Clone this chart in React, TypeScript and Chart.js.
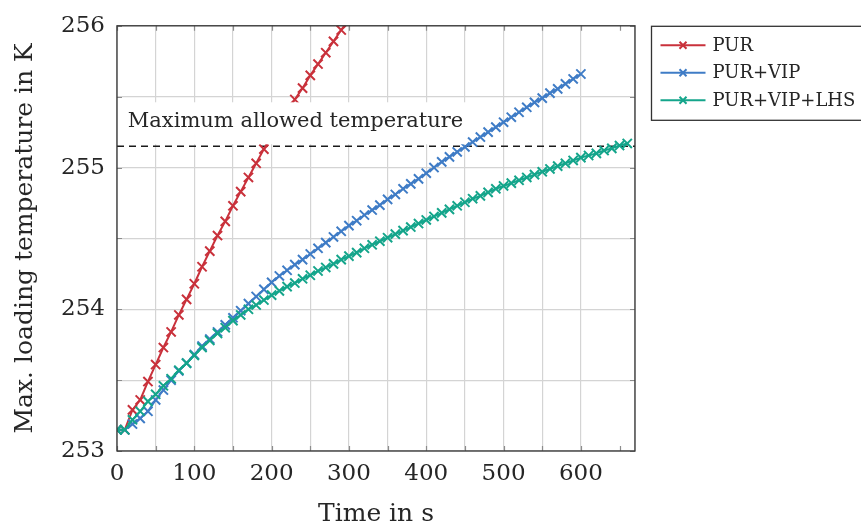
import React, { useEffect, useRef } from 'react';
import { Chart, registerables } from 'chart.js';

Chart.register(...registerables);

// ---------- data ----------
const seriesLabels = ['PUR', 'PUR+VIP', 'PUR+VIP+LHS'];
const seriesColors = ['#c9313b', '#3f7cc6', '#14a58b'];

const timePUR = [0, 10, 20, 30, 40, 50, 60, 70, 80, 90, 100, 110, 120, 130, 140, 150, 160, 170, 180, 190, 200, 210, 220, 230, 240, 250, 260, 270, 280, 290, 300];
const tempPUR = [253.15, 253.15, 253.29, 253.36, 253.49, 253.61, 253.73, 253.84, 253.96, 254.07, 254.18, 254.30, 254.41, 254.52, 254.62, 254.73, 254.83, 254.93, 255.03, 255.13, 255.23, 255.31, 255.39, 255.48, 255.56, 255.65, 255.73, 255.81, 255.89, 255.97, 256.05];

const timeVIP = [0, 10, 20, 30, 40, 50, 60, 70, 80, 90, 100, 110, 120, 130, 140, 150, 160, 170, 180, 190, 200, 210, 220, 230, 240, 250, 260, 270, 280, 290, 300, 310, 320, 330, 340, 350, 360, 370, 380, 390, 400, 410, 420, 430, 440, 450, 460, 470, 480, 490, 500, 510, 520, 530, 540, 550, 560, 570, 580, 590, 600];
const tempVIP = [253.15, 253.15, 253.19, 253.23, 253.28, 253.36, 253.43, 253.50, 253.565, 253.62, 253.68, 253.74, 253.79, 253.84, 253.89, 253.94, 253.99, 254.04, 254.09, 254.14, 254.19, 254.235, 254.275, 254.315, 254.35, 254.39, 254.43, 254.47, 254.51, 254.55, 254.59, 254.625, 254.665, 254.70, 254.735, 254.775, 254.81, 254.85, 254.885, 254.92, 254.96, 255.0, 255.04, 255.075, 255.11, 255.145, 255.18, 255.215, 255.25, 255.285, 255.32, 255.355, 255.39, 255.425, 255.46, 255.49, 255.525, 255.555, 255.59, 255.625, 255.66];

const timeLHS = [0, 10, 20, 30, 40, 50, 60, 70, 80, 90, 100, 110, 120, 130, 140, 150, 160, 170, 180, 190, 200, 210, 220, 230, 240, 250, 260, 270, 280, 290, 300, 310, 320, 330, 340, 350, 360, 370, 380, 390, 400, 410, 420, 430, 440, 450, 460, 470, 480, 490, 500, 510, 520, 530, 540, 550, 560, 570, 580, 590, 600, 610, 620, 630, 640, 650, 660];
const tempLHS = [253.15, 253.15, 253.22, 253.28, 253.35, 253.40, 253.46, 253.51, 253.57, 253.62, 253.675, 253.73, 253.78, 253.83, 253.87, 253.92, 253.96, 254.0, 254.03, 254.065, 254.10, 254.13, 254.16, 254.185, 254.215, 254.24, 254.27, 254.295, 254.32, 254.35, 254.375, 254.40, 254.43, 254.455, 254.48, 254.505, 254.53, 254.555, 254.58, 254.605, 254.63, 254.655, 254.68, 254.705, 254.73, 254.755, 254.78, 254.80, 254.825, 254.85, 254.87, 254.89, 254.91, 254.93, 254.95, 254.97, 254.99, 255.01, 255.03, 255.05, 255.07, 255.085, 255.10, 255.12, 255.135, 255.155, 255.17];

const limitTemp = 255.15;
const limitLabel = 'Maximum allowed temperature';
const limitTimes = [0, 670];
const labelTime = 14;

const xTitle = 'Time in s';
const yTitle = 'Max. loading temperature in K';
const xMin = 0, xMax = 670, xStep = 50, xLabelEvery = 100;
const yMin = 253, yMax = 256, yStep = 0.5;

const FONT = "'DejaVu Serif', serif";
const TEXT = '#262626';

const zip = (xs: number[], ys: number[]) => xs.map((x, i) => ({ x, y: ys[i] }));

const drawCross = (ctx: CanvasRenderingContext2D, x: number, y: number, r: number) => {
  ctx.beginPath();
  ctx.moveTo(x - r, y - r);
  ctx.lineTo(x + r, y + r);
  ctx.moveTo(x - r, y + r);
  ctx.lineTo(x + r, y - r);
  ctx.stroke();
};

const decorPlugin = {
  id: 'decor',
  afterDatasetsDraw(chart: any) {
    const { ctx, chartArea: a, scales } = chart;
    const xs = scales.x, ys = scales.y;
    ctx.save();
    // inner tick marks
    ctx.strokeStyle = '#8c8c8c';
    ctx.lineWidth = 1.2;
    for (let v = yMin; v <= yMax + 1e-9; v += yStep) {
      const py = Math.round(ys.getPixelForValue(v)) + 0.5;
      ctx.beginPath();
      ctx.moveTo(a.left, py); ctx.lineTo(a.left + 5, py);
      ctx.moveTo(a.right, py); ctx.lineTo(a.right - 5, py);
      ctx.stroke();
    }
    for (let v = xMin; v <= xMax; v += xStep) {
      const px = Math.round(xs.getPixelForValue(v)) + 0.5;
      ctx.beginPath();
      ctx.moveTo(px, a.bottom); ctx.lineTo(px, a.bottom - 5);
      ctx.moveTo(px, a.top); ctx.lineTo(px, a.top + 5);
      ctx.stroke();
    }
    // label box for limit line
    const ly = ys.getPixelForValue(limitTemp);
    ctx.font = `21px ${FONT}`;
    const tx = xs.getPixelForValue(labelTime);
    const tw = ctx.measureText(limitLabel).width;
    ctx.fillStyle = '#ffffff';
    ctx.fillRect(a.left + 1, ly - 44, tx + tw + 3 - (a.left + 1), 42);
    ctx.fillStyle = TEXT;
    ctx.textBaseline = 'alphabetic';
    ctx.textAlign = 'left';
    ctx.fillText(limitLabel, tx, ly - 19);
    // frame
    ctx.strokeStyle = '#333333';
    ctx.lineWidth = 1.3;
    ctx.strokeRect(a.left, a.top, a.right - a.left, a.bottom - a.top);
    ctx.restore();
  },
  afterDraw(chart: any) {
    const { ctx, chartArea: a } = chart;
    ctx.save();
    const bx = a.right + 16.5, by = a.top + 0.5;
    ctx.fillStyle = '#ffffff';
    ctx.fillRect(bx, by, 300, 94);
    ctx.strokeStyle = '#333333';
    ctx.lineWidth = 1.3;
    ctx.strokeRect(bx, by, 300, 94);
    ctx.font = `18px ${FONT}`;
    ctx.textBaseline = 'middle';
    ctx.textAlign = 'left';
    for (let i = 0; i < seriesLabels.length; i++) {
      const y = by + 19 + i * 27.5;
      ctx.strokeStyle = seriesColors[i];
      ctx.lineWidth = 2;
      ctx.beginPath();
      ctx.moveTo(bx + 9, y); ctx.lineTo(bx + 54, y);
      ctx.stroke();
      drawCross(ctx, bx + 31.5, y, 3.5);
      ctx.fillStyle = TEXT;
      ctx.fillText(seriesLabels[i], bx + 61, y + 1);
    }
    ctx.restore();
  },
};

const seriesDataset = (i: number, xs: number[], ys: number[]) => ({
  label: seriesLabels[i],
  data: zip(xs, ys),
  order: seriesLabels.length - i,
  borderColor: seriesColors[i],
  backgroundColor: seriesColors[i],
  borderWidth: 2,
  pointStyle: 'crossRot',
  pointRadius: 6.5,
  pointBorderWidth: 2,
  pointHoverRadius: 6.5,
  tension: 0,
  fill: false,
});

export default function App() {
  const ref = useRef<HTMLCanvasElement>(null);
  useEffect(() => {
    if (!ref.current) return;
    const chart = new Chart(ref.current, {
      type: 'line',
      data: {
        datasets: [
          {
            label: 'limit',
            data: limitTimes.map((x) => ({ x, y: limitTemp })),
            order: 10,
            borderColor: '#1a1a1a',
            borderWidth: 1.4,
            borderDash: [7, 5],
            pointRadius: 0,
            fill: false,
          } as any,
          seriesDataset(0, timePUR, tempPUR),
          seriesDataset(1, timeVIP, tempVIP),
          seriesDataset(2, timeLHS, tempLHS),
        ],
      },
      options: {
        responsive: false,
        animation: false,
        events: [],
        layout: { padding: { left: 0, top: 21, right: 226, bottom: 0 } },
        plugins: { legend: { display: false }, tooltip: { enabled: false } },
        scales: {
          x: {
            type: 'linear',
            min: xMin,
            max: xMax,
            afterFit: (s: any) => { s.height = 76; },
            grid: { color: '#d4d4d4', lineWidth: 1.2, drawTicks: false },
            border: { display: false },
            ticks: {
              stepSize: xStep,
              autoSkip: false,
              maxRotation: 0,
              padding: 9,
              color: TEXT,
              font: { family: FONT, size: 23 },
              callback: (v: any) => (Number(v) % xLabelEvery === 0 ? String(v) : ''),
            },
            title: { display: true, text: xTitle, color: TEXT, font: { family: FONT, size: 25 }, padding: { top: 0, bottom: -2 } },
          },
          y: {
            type: 'linear',
            min: yMin,
            max: yMax,
            afterFit: (s: any) => { s.width = 117; },
            grid: { color: '#d4d4d4', lineWidth: 1.2, drawTicks: false },
            border: { display: false },
            ticks: {
              stepSize: yStep,
              autoSkip: false,
              padding: 12,
              color: TEXT,
              font: { family: FONT, size: 23 },
              callback: (v: any) => (Number.isInteger(Number(v)) ? String(v) : ''),
            },
            title: { display: true, text: yTitle, color: TEXT, font: { family: FONT, size: 25 }, padding: { top: 10, bottom: 0 } },
          },
        },
      },
      plugins: [decorPlugin],
    } as any);
    return () => chart.destroy();
  }, []);
  return (
    <div style={{ position: 'fixed', left: 0, top: 0, width: 861, height: 527, background: '#fff' }}>
      <canvas ref={ref} width={861} height={527} style={{ width: 861, height: 527, display: 'block' }} />
    </div>
  );
}
